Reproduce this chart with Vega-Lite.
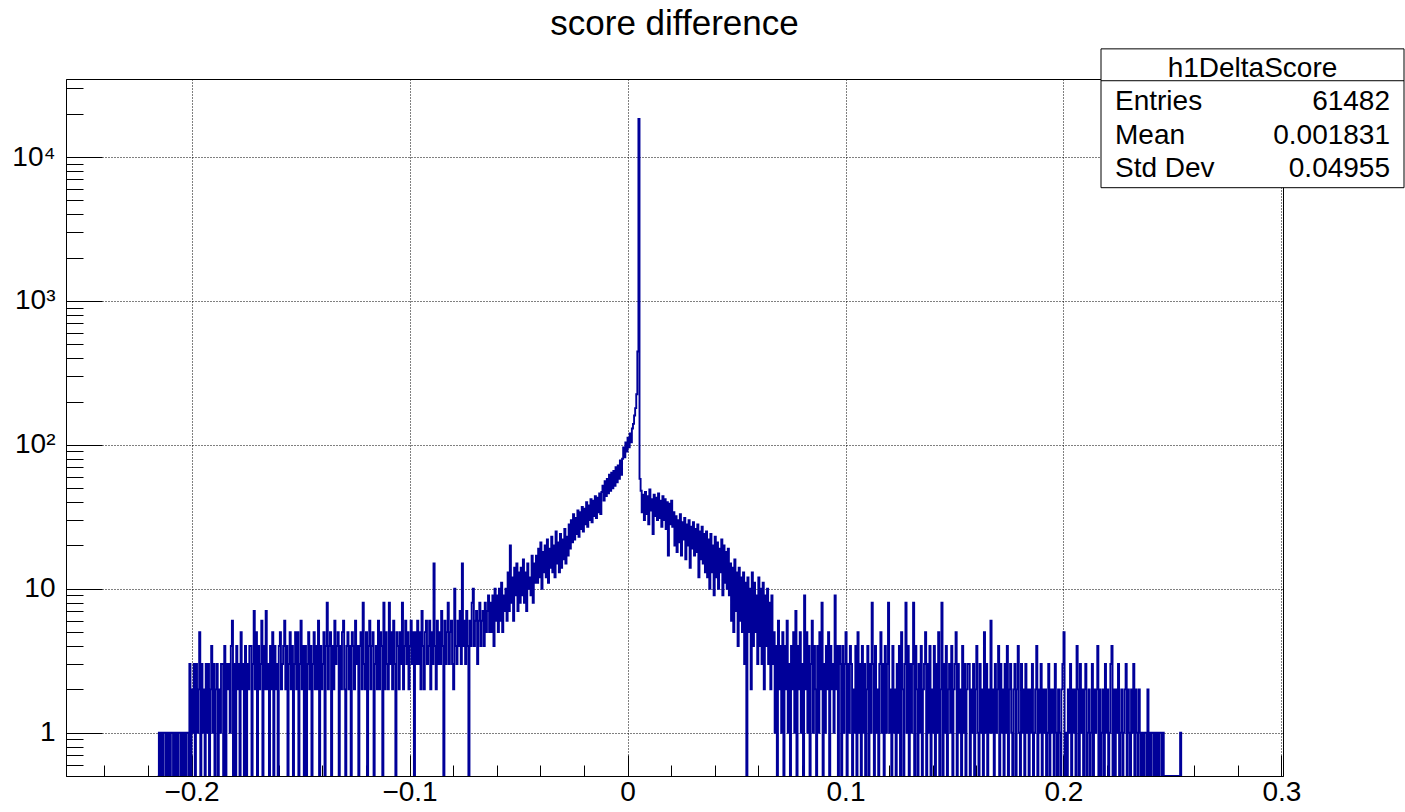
{
"$schema":"https://vega.github.io/schema/vega-lite/v6.json",
"width":1217,"height":697,
"autosize":{"type":"none"},
"padding":{"left":66,"top":79,"right":122,"bottom":36},
"background":"white",
"config":{"view":{"stroke":"black","strokeWidth":1},"font":"Liberation Sans","text":{"font":"Liberation Sans"}},
"title":{"text":"score difference","font":"Liberation Sans","fontSize":35,"fontWeight":"normal","color":"black","anchor":"middle","frame":"group","baseline":"alphabetic","offset":-22},
"resolve":{"scale":{"x":"independent","y":"independent"}},
"layer":[
{
"data":{"values":[
{"x":-0.2155,"n":0},
{"x":-0.215,"n":1},{"x":-0.2145,"n":0},{"x":-0.214,"n":1},{"x":-0.2135,"n":0},{"x":-0.213,"n":1},{"x":-0.2125,"n":1},{"x":-0.212,"n":0},{"x":-0.2115,"n":1},{"x":-0.211,"n":0},{"x":-0.2105,"n":1},{"x":-0.21,"n":0},{"x":-0.2095,"n":1},{"x":-0.209,"n":1},{"x":-0.2085,"n":0},{"x":-0.208,"n":1},{"x":-0.2075,"n":0},{"x":-0.207,"n":1},{"x":-0.2065,"n":0},{"x":-0.206,"n":1},{"x":-0.2055,"n":1},{"x":-0.205,"n":0},{"x":-0.2045,"n":1},{"x":-0.204,"n":0},{"x":-0.2035,"n":1},{"x":-0.203,"n":0},{"x":-0.2025,"n":1},{"x":-0.202,"n":1},{"x":-0.2015,"n":0},
{"x":-0.201,"n":3},{"x":-0.2005,"n":0},{"x":-0.2,"n":2},{"x":-0.1995,"n":1},{"x":-0.199,"n":3},{"x":-0.1985,"n":0},{"x":-0.198,"n":3},{"x":-0.1975,"n":1},{"x":-0.197,"n":2},{"x":-0.1965,"n":5},{"x":-0.196,"n":0},{"x":-0.1955,"n":3},{"x":-0.195,"n":1},{"x":-0.1945,"n":2},{"x":-0.194,"n":0},{"x":-0.1935,"n":3},{"x":-0.193,"n":1},{"x":-0.1925,"n":3},{"x":-0.192,"n":0},{"x":-0.1915,"n":2},{"x":-0.191,"n":4},{"x":-0.1905,"n":1},{"x":-0.19,"n":3},{"x":-0.1895,"n":0},{"x":-0.189,"n":2},{"x":-0.1885,"n":3},{"x":-0.188,"n":0},{"x":-0.1875,"n":2},{"x":-0.187,"n":1},{"x":-0.1865,"n":3},
{"x":-0.186,"n":3},{"x":-0.1855,"n":0},{"x":-0.185,"n":4},{"x":-0.1845,"n":0},{"x":-0.184,"n":3},{"x":-0.1835,"n":2},{"x":-0.183,"n":3},{"x":-0.1825,"n":1},{"x":-0.182,"n":4},{"x":-0.1815,"n":6},{"x":-0.181,"n":0},{"x":-0.1805,"n":3},{"x":-0.18,"n":0},{"x":-0.1795,"n":4},{"x":-0.179,"n":2},{"x":-0.1785,"n":3},{"x":-0.178,"n":0},{"x":-0.1775,"n":5},{"x":-0.177,"n":2},{"x":-0.1765,"n":3},{"x":-0.176,"n":0},{"x":-0.1755,"n":4},{"x":-0.175,"n":0},{"x":-0.1745,"n":3},{"x":-0.174,"n":2},{"x":-0.1735,"n":4},
{"x":-0.173,"n":4},{"x":-0.1725,"n":0},{"x":-0.172,"n":3},{"x":-0.1715,"n":7},{"x":-0.171,"n":2},{"x":-0.1705,"n":5},{"x":-0.17,"n":0},{"x":-0.1695,"n":4},{"x":-0.169,"n":2},{"x":-0.1685,"n":3},
{"x":-0.168,"n":6},{"x":-0.1675,"n":0},{"x":-0.167,"n":4},{"x":-0.1665,"n":2},{"x":-0.166,"n":7},{"x":-0.1655,"n":2},{"x":-0.165,"n":3},{"x":-0.1645,"n":0},{"x":-0.164,"n":4},{"x":-0.1635,"n":2},
{"x":-0.163,"n":5},{"x":-0.1625,"n":0},{"x":-0.162,"n":4},{"x":-0.1615,"n":2},{"x":-0.161,"n":3},{"x":-0.1605,"n":0},{"x":-0.16,"n":4},{"x":-0.1595,"n":5},{"x":-0.159,"n":2},{"x":-0.1585,"n":3},
{"x":-0.158,"n":4},{"x":-0.1575,"n":6},{"x":-0.157,"n":2},{"x":-0.1565,"n":4},{"x":-0.156,"n":0},{"x":-0.1555,"n":3},{"x":-0.155,"n":5},{"x":-0.1545,"n":2},{"x":-0.154,"n":4},{"x":-0.1535,"n":0},
{"x":-0.153,"n":3},{"x":-0.1525,"n":5},{"x":-0.152,"n":2},{"x":-0.1515,"n":5},{"x":-0.151,"n":0},{"x":-0.1505,"n":3},{"x":-0.15,"n":6},{"x":-0.1495,"n":2},{"x":-0.149,"n":4},{"x":-0.1485,"n":0},
{"x":-0.148,"n":4},{"x":-0.1475,"n":0},{"x":-0.147,"n":3},{"x":-0.1465,"n":5},{"x":-0.146,"n":2},{"x":-0.1455,"n":4},{"x":-0.145,"n":0},{"x":-0.1445,"n":3},{"x":-0.144,"n":5},{"x":-0.1435,"n":2},
{"x":-0.143,"n":4},{"x":-0.1425,"n":2},{"x":-0.142,"n":6},{"x":-0.1415,"n":0},{"x":-0.141,"n":4},{"x":-0.1405,"n":2},{"x":-0.14,"n":3},{"x":-0.1395,"n":5},{"x":-0.139,"n":0},{"x":-0.1385,"n":4},
{"x":-0.138,"n":8},{"x":-0.1375,"n":2},{"x":-0.137,"n":4},{"x":-0.1365,"n":5},{"x":-0.136,"n":0},{"x":-0.1355,"n":4},{"x":-0.135,"n":2},{"x":-0.1345,"n":6},{"x":-0.134,"n":3},{"x":-0.1335,"n":4},
{"x":-0.133,"n":5},{"x":-0.1325,"n":0},{"x":-0.132,"n":4},{"x":-0.1315,"n":2},{"x":-0.131,"n":5},{"x":-0.1305,"n":6},{"x":-0.13,"n":2},{"x":-0.1295,"n":0},{"x":-0.129,"n":4},{"x":-0.1285,"n":5},
{"x":-0.128,"n":2},{"x":-0.1275,"n":4},{"x":-0.127,"n":0},{"x":-0.1265,"n":5},{"x":-0.126,"n":4},{"x":-0.1255,"n":2},{"x":-0.125,"n":6},{"x":-0.1245,"n":3},{"x":-0.124,"n":4},{"x":-0.1235,"n":0},
{"x":-0.123,"n":4},{"x":-0.1225,"n":5},{"x":-0.122,"n":2},{"x":-0.1215,"n":8},{"x":-0.121,"n":3},{"x":-0.1205,"n":2},{"x":-0.12,"n":5},{"x":-0.1195,"n":0},{"x":-0.119,"n":4},{"x":-0.1185,"n":6},
{"x":-0.118,"n":2},{"x":-0.1175,"n":4},{"x":-0.117,"n":5},{"x":-0.1165,"n":0},{"x":-0.116,"n":3},{"x":-0.1155,"n":4},{"x":-0.115,"n":2},{"x":-0.1145,"n":6},{"x":-0.114,"n":2},{"x":-0.1135,"n":5},
{"x":-0.113,"n":4},{"x":-0.1125,"n":0},{"x":-0.112,"n":8},{"x":-0.1115,"n":2},{"x":-0.111,"n":5},{"x":-0.1105,"n":3},{"x":-0.11,"n":2},{"x":-0.1095,"n":8},{"x":-0.109,"n":3},{"x":-0.1085,"n":5},
{"x":-0.108,"n":2},{"x":-0.1075,"n":6},{"x":-0.107,"n":3},{"x":-0.1065,"n":0},{"x":-0.106,"n":5},{"x":-0.1055,"n":4},{"x":-0.105,"n":2},{"x":-0.1045,"n":5},{"x":-0.104,"n":3},{"x":-0.1035,"n":8},
{"x":-0.103,"n":2},{"x":-0.1025,"n":4},{"x":-0.102,"n":6},{"x":-0.1015,"n":3},
{"x":-0.101,"n":5},{"x":-0.1005,"n":2},{"x":-0.1,"n":4},{"x":-0.0995,"n":6},{"x":-0.099,"n":3},{"x":-0.0985,"n":5},{"x":-0.098,"n":0},{"x":-0.0975,"n":5},{"x":-0.097,"n":3},{"x":-0.0965,"n":6},
{"x":-0.096,"n":3},{"x":-0.0955,"n":5},{"x":-0.095,"n":2},{"x":-0.0945,"n":7},{"x":-0.094,"n":4},{"x":-0.0935,"n":2},{"x":-0.093,"n":5},{"x":-0.0925,"n":6},{"x":-0.092,"n":3},{"x":-0.0915,"n":4},
{"x":-0.091,"n":6},{"x":-0.0905,"n":2},{"x":-0.09,"n":5},{"x":-0.0895,"n":3},{"x":-0.089,"n":15},{"x":-0.0885,"n":4},{"x":-0.088,"n":2},{"x":-0.0875,"n":6},{"x":-0.087,"n":3},{"x":-0.0865,"n":5},
{"x":-0.086,"n":3},{"x":-0.0855,"n":7},{"x":-0.085,"n":4},{"x":-0.0845,"n":0},{"x":-0.084,"n":6},{"x":-0.0835,"n":3},{"x":-0.083,"n":5},{"x":-0.0825,"n":8},{"x":-0.082,"n":3},{"x":-0.0815,"n":5},
{"x":-0.081,"n":6},{"x":-0.0805,"n":3},{"x":-0.08,"n":2},{"x":-0.0795,"n":10},{"x":-0.079,"n":4},{"x":-0.0785,"n":3},{"x":-0.078,"n":6},{"x":-0.0775,"n":4},{"x":-0.077,"n":7},{"x":-0.0765,"n":3},
{"x":-0.076,"n":15},{"x":-0.0755,"n":4},{"x":-0.075,"n":6},{"x":-0.0745,"n":3},{"x":-0.074,"n":7},{"x":-0.0735,"n":4},{"x":-0.073,"n":0},{"x":-0.0725,"n":6},{"x":-0.072,"n":4},{"x":-0.0715,"n":8},
{"x":-0.071,"n":10},{"x":-0.0705,"n":4},{"x":-0.07,"n":6},{"x":-0.0695,"n":7},{"x":-0.069,"n":3},{"x":-0.0685,"n":6},{"x":-0.068,"n":8},{"x":-0.0675,"n":4},{"x":-0.067,"n":6},{"x":-0.0665,"n":7},
{"x":-0.066,"n":4},{"x":-0.0655,"n":8},{"x":-0.065,"n":5},{"x":-0.0645,"n":7},{"x":-0.064,"n":9},{"x":-0.0635,"n":5},
{"x":-0.063,"n":8},{"x":-0.0625,"n":5},{"x":-0.062,"n":9},{"x":-0.0615,"n":4},{"x":-0.061,"n":10},{"x":-0.0605,"n":6},{"x":-0.06,"n":9},{"x":-0.0595,"n":5},{"x":-0.059,"n":10},{"x":-0.0585,"n":6},{"x":-0.058,"n":11},{"x":-0.0575,"n":5},{"x":-0.057,"n":9},{"x":-0.0565,"n":7},{"x":-0.056,"n":10},{"x":-0.0555,"n":6},
{"x":-0.055,"n":13},{"x":-0.0545,"n":7},{"x":-0.054,"n":20},{"x":-0.0535,"n":8},{"x":-0.053,"n":12},{"x":-0.0525,"n":6},{"x":-0.052,"n":14},{"x":-0.0515,"n":9},{"x":-0.051,"n":15},{"x":-0.0505,"n":7},{"x":-0.05,"n":13},{"x":-0.0495,"n":8},{"x":-0.049,"n":14},{"x":-0.0485,"n":9},{"x":-0.048,"n":16},{"x":-0.0475,"n":8},{"x":-0.047,"n":13},{"x":-0.0465,"n":7},{"x":-0.046,"n":15},{"x":-0.0455,"n":10},{"x":-0.045,"n":12},{"x":-0.0445,"n":9},{"x":-0.044,"n":17},{"x":-0.0435,"n":8},{"x":-0.043,"n":15},{"x":-0.0425,"n":11},
{"x":-0.042,"n":17},{"x":-0.0415,"n":11},{"x":-0.041,"n":19},{"x":-0.0405,"n":12},{"x":-0.04,"n":21},{"x":-0.0395,"n":10},{"x":-0.039,"n":18},{"x":-0.0385,"n":13},{"x":-0.038,"n":20},{"x":-0.0375,"n":12},{"x":-0.037,"n":22},{"x":-0.0365,"n":11},{"x":-0.036,"n":19},{"x":-0.0355,"n":14},{"x":-0.035,"n":23},{"x":-0.0345,"n":13},{"x":-0.034,"n":20},{"x":-0.0335,"n":12},{"x":-0.033,"n":25},{"x":-0.0325,"n":15},{"x":-0.032,"n":21},{"x":-0.0315,"n":13},{"x":-0.031,"n":24},{"x":-0.0305,"n":14},{"x":-0.03,"n":22},{"x":-0.0295,"n":16},{"x":-0.029,"n":26},{"x":-0.0285,"n":15},{"x":-0.028,"n":23},{"x":-0.0275,"n":17},
{"x":-0.027,"n":28},{"x":-0.0265,"n":19},{"x":-0.026,"n":30},{"x":-0.0255,"n":21},{"x":-0.025,"n":33},{"x":-0.0245,"n":22},{"x":-0.024,"n":31},{"x":-0.0235,"n":24},{"x":-0.023,"n":35},{"x":-0.0225,"n":23},{"x":-0.022,"n":34},{"x":-0.0215,"n":26},{"x":-0.021,"n":37},{"x":-0.0205,"n":25},{"x":-0.02,"n":36},{"x":-0.0195,"n":28},{"x":-0.019,"n":40},{"x":-0.0185,"n":27},{"x":-0.018,"n":38},{"x":-0.0175,"n":30},{"x":-0.017,"n":42},{"x":-0.0165,"n":29},{"x":-0.016,"n":41},{"x":-0.0155,"n":32},{"x":-0.015,"n":44},{"x":-0.0145,"n":31},{"x":-0.014,"n":43},{"x":-0.0135,"n":34},{"x":-0.013,"n":46},{"x":-0.0125,"n":33},{"x":-0.012,"n":47},
{"x":-0.0115,"n":52},{"x":-0.011,"n":41},{"x":-0.0105,"n":56},{"x":-0.01,"n":44},{"x":-0.0095,"n":58},{"x":-0.009,"n":46},{"x":-0.0085,"n":62},{"x":-0.008,"n":48},{"x":-0.0075,"n":64},{"x":-0.007,"n":50},{"x":-0.0065,"n":66},{"x":-0.006,"n":52},{"x":-0.0055,"n":70},{"x":-0.005,"n":55},{"x":-0.0045,"n":72},{"x":-0.004,"n":58},{"x":-0.0035,"n":78},{"x":-0.003,"n":62},{"x":-0.0025,"n":80},
{"x":-0.002,"n":96},{"x":-0.0015,"n":82},{"x":-0.001,"n":104},{"x":-0.0005,"n":90},{"x":0,"n":112},{"x":0.0005,"n":96},{"x":0.001,"n":120},{"x":0.0015,"n":104},{"x":0.002,"n":130},
{"x":0.0025,"n":140},{"x":0.003,"n":160},{"x":0.0035,"n":180},{"x":0.004,"n":225},{"x":0.0045,"n":445},{"x":0.005,"n":18400},{"x":0.0055,"n":58},
{"x":0.006,"n":48},{"x":0.0065,"n":34},{"x":0.007,"n":45},{"x":0.0075,"n":30},{"x":0.008,"n":47},{"x":0.0085,"n":33},{"x":0.009,"n":44},{"x":0.0095,"n":28},{"x":0.01,"n":49},{"x":0.0105,"n":35},{"x":0.011,"n":42},{"x":0.0115,"n":24},{"x":0.012,"n":45},{"x":0.0125,"n":32},{"x":0.013,"n":43},{"x":0.0135,"n":30},{"x":0.014,"n":46},{"x":0.0145,"n":31},{"x":0.015,"n":41},{"x":0.0155,"n":27},{"x":0.016,"n":44},{"x":0.0165,"n":30},{"x":0.017,"n":42},{"x":0.0175,"n":26},{"x":0.018,"n":40},{"x":0.0185,"n":17},{"x":0.019,"n":39},{"x":0.0195,"n":28},{"x":0.02,"n":41},{"x":0.0205,"n":27},
{"x":0.021,"n":34},{"x":0.0215,"n":20},{"x":0.022,"n":32},{"x":0.0225,"n":18},{"x":0.023,"n":30},{"x":0.0235,"n":21},{"x":0.024,"n":33},{"x":0.0245,"n":17},{"x":0.025,"n":29},{"x":0.0255,"n":22},{"x":0.026,"n":31},{"x":0.0265,"n":16},{"x":0.027,"n":28},{"x":0.0275,"n":20},{"x":0.028,"n":30},{"x":0.0285,"n":14},{"x":0.029,"n":27},{"x":0.0295,"n":19},{"x":0.03,"n":29},{"x":0.0305,"n":17},{"x":0.031,"n":26},{"x":0.0315,"n":18},{"x":0.032,"n":28},{"x":0.0325,"n":12},{"x":0.033,"n":25},{"x":0.0335,"n":16},{"x":0.034,"n":27},{"x":0.0345,"n":15},{"x":0.035,"n":24},{"x":0.0355,"n":13},
{"x":0.036,"n":25},{"x":0.0365,"n":12},{"x":0.037,"n":22},{"x":0.0375,"n":10},{"x":0.038,"n":24},{"x":0.0385,"n":13},{"x":0.039,"n":20},{"x":0.0395,"n":9},{"x":0.04,"n":23},{"x":0.0405,"n":12},{"x":0.041,"n":21},{"x":0.0415,"n":10},{"x":0.042,"n":19},{"x":0.0425,"n":13},{"x":0.043,"n":22},{"x":0.0435,"n":9},{"x":0.044,"n":20},{"x":0.0445,"n":11},{"x":0.045,"n":18},{"x":0.0455,"n":10},{"x":0.046,"n":19},{"x":0.0465,"n":9},
{"x":0.047,"n":15},{"x":0.0475,"n":6},{"x":0.048,"n":14},{"x":0.0485,"n":5},{"x":0.049,"n":16},{"x":0.0495,"n":7},{"x":0.05,"n":13},{"x":0.0505,"n":4},{"x":0.051,"n":14},{"x":0.0515,"n":6},{"x":0.052,"n":12},{"x":0.0525,"n":5},{"x":0.053,"n":13},{"x":0.0535,"n":3},{"x":0.054,"n":11},{"x":0.0545,"n":0},{"x":0.055,"n":12},{"x":0.0555,"n":5},{"x":0.056,"n":10},{"x":0.0565,"n":2},{"x":0.057,"n":13},{"x":0.0575,"n":4},{"x":0.058,"n":11},{"x":0.0585,"n":5},{"x":0.059,"n":9},{"x":0.0595,"n":3},{"x":0.06,"n":12},{"x":0.0605,"n":4},{"x":0.061,"n":10},{"x":0.0615,"n":3},{"x":0.062,"n":11},{"x":0.0625,"n":2},{"x":0.063,"n":9},{"x":0.0635,"n":4},{"x":0.064,"n":10},{"x":0.0645,"n":3},{"x":0.065,"n":8},{"x":0.0655,"n":2},{"x":0.066,"n":9},{"x":0.0665,"n":3},
{"x":0.067,"n":5},{"x":0.0675,"n":1},{"x":0.068,"n":4},{"x":0.0685,"n":0},{"x":0.069,"n":6},{"x":0.0695,"n":2},{"x":0.07,"n":4},{"x":0.0705,"n":1},{"x":0.071,"n":5},{"x":0.0715,"n":0},
{"x":0.072,"n":4},{"x":0.0725,"n":2},{"x":0.073,"n":6},{"x":0.0735,"n":1},{"x":0.074,"n":3},{"x":0.0745,"n":0},{"x":0.075,"n":4},{"x":0.0755,"n":2},{"x":0.076,"n":5},{"x":0.0765,"n":1},
{"x":0.077,"n":7},{"x":0.0775,"n":0},{"x":0.078,"n":4},{"x":0.0785,"n":2},{"x":0.079,"n":5},{"x":0.0795,"n":1},{"x":0.08,"n":3},{"x":0.0805,"n":0},{"x":0.081,"n":9},{"x":0.0815,"n":2},
{"x":0.082,"n":5},{"x":0.0825,"n":1},{"x":0.083,"n":4},{"x":0.0835,"n":0},{"x":0.084,"n":3},{"x":0.0845,"n":6},{"x":0.085,"n":1},{"x":0.0855,"n":4},{"x":0.086,"n":2},{"x":0.0865,"n":0},
{"x":0.087,"n":4},{"x":0.0875,"n":1},{"x":0.088,"n":5},{"x":0.0885,"n":2},{"x":0.089,"n":8},{"x":0.0895,"n":0},{"x":0.09,"n":3},{"x":0.0905,"n":1},{"x":0.091,"n":4},{"x":0.0915,"n":2},
{"x":0.092,"n":5},{"x":0.0925,"n":0},{"x":0.093,"n":4},{"x":0.0935,"n":2},{"x":0.094,"n":3},{"x":0.0945,"n":1},{"x":0.095,"n":9},{"x":0.0955,"n":2},{"x":0.096,"n":4},{"x":0.0965,"n":0},
{"x":0.097,"n":4},
{"x":0.0975,"n":3},{"x":0.098,"n":0},{"x":0.0985,"n":4},{"x":0.099,"n":1},{"x":0.0995,"n":3},{"x":0.1,"n":5},{"x":0.1005,"n":0},{"x":0.101,"n":3},{"x":0.1015,"n":1},{"x":0.102,"n":4},
{"x":0.1025,"n":3},{"x":0.103,"n":0},{"x":0.1035,"n":2},{"x":0.104,"n":1},{"x":0.1045,"n":4},{"x":0.105,"n":0},{"x":0.1055,"n":5},{"x":0.106,"n":1},{"x":0.1065,"n":3},{"x":0.107,"n":0},
{"x":0.1075,"n":4},{"x":0.108,"n":1},{"x":0.1085,"n":3},{"x":0.109,"n":0},{"x":0.1095,"n":2},{"x":0.11,"n":4},{"x":0.1105,"n":0},{"x":0.111,"n":3},{"x":0.1115,"n":1},{"x":0.112,"n":8},
{"x":0.1125,"n":3},{"x":0.113,"n":0},{"x":0.1135,"n":4},{"x":0.114,"n":1},{"x":0.1145,"n":2},{"x":0.115,"n":0},{"x":0.1155,"n":3},{"x":0.116,"n":5},{"x":0.1165,"n":1},{"x":0.117,"n":3},
{"x":0.1175,"n":0},{"x":0.118,"n":4},{"x":0.1185,"n":1},{"x":0.119,"n":3},{"x":0.1195,"n":8},{"x":0.12,"n":1},{"x":0.1205,"n":2},{"x":0.121,"n":0},{"x":0.1215,"n":4},{"x":0.122,"n":1},
{"x":0.1225,"n":2},{"x":0.123,"n":0},{"x":0.1235,"n":3},{"x":0.124,"n":1},{"x":0.1245,"n":4},{"x":0.125,"n":0},{"x":0.1255,"n":5},{"x":0.126,"n":2},{"x":0.1265,"n":0},{"x":0.127,"n":3},
{"x":0.1275,"n":8},{"x":0.128,"n":1},{"x":0.1285,"n":4},{"x":0.129,"n":0},{"x":0.1295,"n":3},{"x":0.13,"n":1},{"x":0.1305,"n":3},{"x":0.131,"n":8},{"x":0.1315,"n":0},{"x":0.132,"n":4},
{"x":0.1325,"n":2},{"x":0.133,"n":0},{"x":0.1335,"n":3},{"x":0.134,"n":1},{"x":0.1345,"n":4},{"x":0.135,"n":0},{"x":0.1355,"n":2},{"x":0.136,"n":3},{"x":0.1365,"n":5},{"x":0.137,"n":0},
{"x":0.1375,"n":3},{"x":0.138,"n":1},{"x":0.1385,"n":4},{"x":0.139,"n":0},{"x":0.1395,"n":2},{"x":0.14,"n":1},{"x":0.1405,"n":4},{"x":0.141,"n":0},{"x":0.1415,"n":3},{"x":0.142,"n":1},
{"x":0.1425,"n":5},{"x":0.143,"n":0},{"x":0.1435,"n":2},{"x":0.144,"n":8},{"x":0.1445,"n":0},{"x":0.145,"n":3},{"x":0.1455,"n":1},{"x":0.146,"n":4},{"x":0.1465,"n":0},{"x":0.147,"n":2},
{"x":0.1475,"n":3},{"x":0.148,"n":1},{"x":0.1485,"n":4},{"x":0.149,"n":0},{"x":0.1495,"n":2},{"x":0.15,"n":3},{"x":0.1505,"n":5},{"x":0.151,"n":0},{"x":0.1515,"n":3},{"x":0.152,"n":1},
{"x":0.1525,"n":2},{"x":0.153,"n":0},{"x":0.1535,"n":4},{"x":0.154,"n":1},{"x":0.1545,"n":3},{"x":0.155,"n":0},{"x":0.1555,"n":2},{"x":0.156,"n":3},
{"x":0.1565,"n":3},{"x":0.157,"n":0},{"x":0.1575,"n":2},{"x":0.158,"n":1},{"x":0.1585,"n":3},{"x":0.159,"n":0},{"x":0.1595,"n":2},{"x":0.16,"n":4},{"x":0.1605,"n":1},{"x":0.161,"n":0},
{"x":0.1615,"n":3},{"x":0.162,"n":1},{"x":0.1625,"n":2},{"x":0.163,"n":0},{"x":0.1635,"n":5},{"x":0.164,"n":1},{"x":0.1645,"n":3},{"x":0.165,"n":0},{"x":0.1655,"n":2},{"x":0.166,"n":1},
{"x":0.1665,"n":6},{"x":0.167,"n":1},{"x":0.1675,"n":2},{"x":0.168,"n":0},{"x":0.1685,"n":3},{"x":0.169,"n":1},{"x":0.1695,"n":2},{"x":0.17,"n":4},{"x":0.1705,"n":0},{"x":0.171,"n":3},
{"x":0.1715,"n":1},{"x":0.172,"n":2},{"x":0.1725,"n":0},{"x":0.173,"n":3},{"x":0.1735,"n":1},{"x":0.174,"n":4},{"x":0.1745,"n":0},{"x":0.175,"n":2},{"x":0.1755,"n":3},{"x":0.176,"n":1},
{"x":0.1765,"n":0},{"x":0.177,"n":2},{"x":0.1775,"n":3},{"x":0.178,"n":0},{"x":0.1785,"n":2},{"x":0.179,"n":4},{"x":0.1795,"n":1},{"x":0.18,"n":0},{"x":0.1805,"n":3},{"x":0.181,"n":1},
{"x":0.1815,"n":2},{"x":0.182,"n":0},{"x":0.1825,"n":3},{"x":0.183,"n":1},{"x":0.1835,"n":2},{"x":0.184,"n":0},{"x":0.1845,"n":2},{"x":0.185,"n":1},{"x":0.1855,"n":3},{"x":0.186,"n":0},
{"x":0.1865,"n":1},{"x":0.187,"n":2},{"x":0.1875,"n":4},{"x":0.188,"n":0},{"x":0.1885,"n":2},{"x":0.189,"n":1},{"x":0.1895,"n":3},{"x":0.19,"n":0},{"x":0.1905,"n":2},{"x":0.191,"n":1},
{"x":0.1915,"n":2},{"x":0.192,"n":0},{"x":0.1925,"n":1},{"x":0.193,"n":3},{"x":0.1935,"n":0},{"x":0.194,"n":2},{"x":0.1945,"n":1},{"x":0.195,"n":2},{"x":0.1955,"n":0},{"x":0.196,"n":3},
{"x":0.1965,"n":1},{"x":0.197,"n":0},{"x":0.1975,"n":2},{"x":0.198,"n":1},{"x":0.1985,"n":0},{"x":0.199,"n":2},{"x":0.1995,"n":3},{"x":0.2,"n":5},{"x":0.2005,"n":0},{"x":0.201,"n":1},
{"x":0.2015,"n":0},{"x":0.202,"n":2},{"x":0.2025,"n":1},{"x":0.203,"n":3},{"x":0.2035,"n":0},{"x":0.204,"n":2},{"x":0.2045,"n":1},{"x":0.205,"n":2},{"x":0.2055,"n":0},{"x":0.206,"n":4},
{"x":0.2065,"n":2},{"x":0.207,"n":0},{"x":0.2075,"n":3},{"x":0.208,"n":1},{"x":0.2085,"n":2},{"x":0.209,"n":0},{"x":0.2095,"n":2},{"x":0.21,"n":3},{"x":0.2105,"n":0},{"x":0.211,"n":1},
{"x":0.2115,"n":2},{"x":0.212,"n":0},{"x":0.2125,"n":1},{"x":0.213,"n":3},{"x":0.2135,"n":0},{"x":0.214,"n":2},{"x":0.2145,"n":1},{"x":0.215,"n":2},{"x":0.2155,"n":4},{"x":0.216,"n":0},
{"x":0.2165,"n":2},{"x":0.217,"n":0},{"x":0.2175,"n":1},{"x":0.218,"n":2},{"x":0.2185,"n":0},{"x":0.219,"n":3},{"x":0.2195,"n":1},{"x":0.22,"n":2},{"x":0.2205,"n":0},{"x":0.221,"n":1},
{"x":0.2215,"n":3},{"x":0.222,"n":4},{"x":0.2225,"n":0},{"x":0.223,"n":2},{"x":0.2235,"n":0},{"x":0.224,"n":2},{"x":0.2245,"n":1},{"x":0.225,"n":3},{"x":0.2255,"n":0},{"x":0.226,"n":1},
{"x":0.2265,"n":2},{"x":0.227,"n":0},{"x":0.2275,"n":1},{"x":0.228,"n":2},{"x":0.2285,"n":3},{"x":0.229,"n":0},{"x":0.2295,"n":2},{"x":0.23,"n":1},{"x":0.2305,"n":0},{"x":0.231,"n":2},
{"x":0.2315,"n":1},{"x":0.232,"n":3},{"x":0.2325,"n":0},{"x":0.233,"n":2},
{"x":0.2335,"n":1},{"x":0.234,"n":0},{"x":0.2345,"n":2},{"x":0.235,"n":1},{"x":0.2355,"n":0},{"x":0.236,"n":1},{"x":0.2365,"n":0},{"x":0.237,"n":1},{"x":0.2375,"n":1},{"x":0.238,"n":0},{"x":0.2385,"n":2},{"x":0.239,"n":0},{"x":0.2395,"n":1},{"x":0.24,"n":0},{"x":0.2405,"n":1},{"x":0.241,"n":1},{"x":0.2415,"n":0},{"x":0.242,"n":1},{"x":0.2425,"n":0},{"x":0.243,"n":1},{"x":0.2435,"n":0},{"x":0.244,"n":1},{"x":0.2445,"n":1},{"x":0.245,"n":0},{"x":0.2455,"n":1},
{"x":0.246,"n":0},{"x":0.2535,"n":1},{"x":0.254,"n":0}
]},
"mark":{"type":"line","interpolate":"step-after","color":"#000099","strokeWidth":1.9,"clip":true,"invalid":"show"},
"encoding":{
"x":{"field":"x","type":"quantitative","title":null,
"scale":{"domain":[-0.2576,0.3007],"nice":false,"zero":false},
"axis":{"orient":"bottom","values":[-0.24,-0.22,-0.2,-0.18,-0.16,-0.14,-0.12,-0.1,-0.08,-0.06,-0.04,-0.02,0,0.02,0.04,0.06,0.08,0.1,0.12,0.14,0.16,0.18,0.2,0.22,0.24,0.26,0.28,0.3],
"grid":true,"gridColor":"black","gridDash":[1,2],"gridWidth":1,
"gridOpacity":{"condition":{"test":"abs(round(datum.value*100)) % 10 == 0","value":1},"value":0},
"tickColor":"black","tickWidth":1,
"tickSize":{"condition":{"test":"abs(round(datum.value*100)) % 10 == 0","value":-21},"value":-11},
"labelExpr":"abs(round(datum.value*100)) % 10 == 0 ? format(datum.value, '.1~f') : ''",
"labelFont":"Liberation Sans","labelFontSize":28,"labelColor":"black","labelPadding":23,
"labelOverlap":false,"labelBound":false,"labelFlush":false,"domainColor":"black","domainWidth":1}},
"y":{"field":"n","type":"quantitative","title":null,
"scale":{"type":"log","domain":[0.5,34860],"nice":false,"clamp":true},
"axis":{"orient":"left","values":[0.6,0.7,0.8,0.9,1,2,3,4,5,6,7,8,9,10,20,30,40,50,60,70,80,90,100,200,300,400,500,600,700,800,900,1000,2000,3000,4000,5000,6000,7000,8000,9000,10000,20000,30000],
"grid":true,"gridColor":"black","gridDash":[1,2],"gridWidth":1,
"gridOpacity":{"condition":{"test":"datum.value == 1 || datum.value == 10 || datum.value == 100 || datum.value == 1000 || datum.value == 10000","value":1},"value":0},
"tickColor":"black","tickWidth":1,
"tickSize":{"condition":{"test":"datum.value == 1 || datum.value == 10 || datum.value == 100 || datum.value == 1000 || datum.value == 10000","value":-36},"value":-17},
"labelExpr":"datum.value == 10000 ? '10⁴' : datum.value == 1000 ? '10³' : datum.value == 100 ? '10²' : datum.value == 10 ? '10' : datum.value == 1 ? '1' : ''",
"labelFont":"Liberation Sans","labelFontSize":28,"labelColor":"black","labelPadding":47,
"labelOverlap":false,"labelBound":false,"labelFlush":false,"domainColor":"black","domainWidth":1}}
}
},
{
"data":{"values":[
{"stat":"h1DeltaScore","value":""},
{"stat":"Entries","value":"61482"},
{"stat":"Mean","value":"0.001831"},
{"stat":"Std Dev","value":"0.04955"}
]},
"transform":[{"window":[{"op":"row_number","as":"row"}]}],
"layer":[
{"transform":[{"filter":"datum.row == 1"}],
"mark":{"type":"rect","fill":"white","stroke":"black","strokeWidth":1},
"encoding":{
"x":{"datum":0,"type":"quantitative","scale":{"domain":[0,1],"range":[1035,1338]},"axis":null},
"x2":{"datum":1},
"y":{"datum":0.17,"type":"quantitative","scale":{"domain":[1,4],"range":[-2.3,98.3]},"axis":null},
"y2":{"datum":4.31}}},
{"transform":[{"filter":"datum.row == 1"}],
"mark":{"type":"rule","stroke":"black","strokeWidth":1},
"encoding":{"x":{"datum":0,"type":"quantitative"},"x2":{"datum":1},"y":{"datum":1.12,"type":"quantitative"}}},
{"transform":[{"filter":"datum.row == 1"}],
"mark":{"type":"text","align":"center","baseline":"alphabetic","fontSize":28,"font":"Liberation Sans","color":"black"},
"encoding":{"x":{"datum":0.5,"type":"quantitative"},"y":{"field":"row","type":"quantitative"},"text":{"field":"stat"}}},
{"transform":[{"filter":"datum.row > 1"}],
"mark":{"type":"text","align":"left","baseline":"alphabetic","fontSize":28,"font":"Liberation Sans","color":"black","dx":14},
"encoding":{"x":{"datum":0,"type":"quantitative"},"y":{"field":"row","type":"quantitative"},"text":{"field":"stat"}}},
{"transform":[{"filter":"datum.row > 1"}],
"mark":{"type":"text","align":"right","baseline":"alphabetic","fontSize":28,"font":"Liberation Sans","color":"black","dx":-14},
"encoding":{"x":{"datum":1,"type":"quantitative"},"y":{"field":"row","type":"quantitative"},"text":{"field":"value"}}}
]
}
]
}
